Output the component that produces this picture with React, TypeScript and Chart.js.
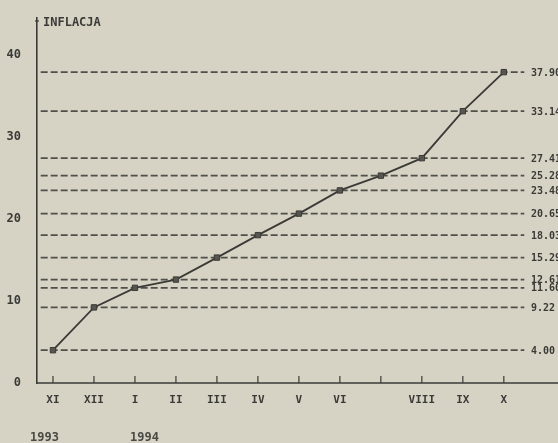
import React, { useEffect, useRef } from "react";
import { Chart, registerables } from "chart.js";

Chart.register(...registerables);

const months = ["XI", "XII", "I", "II", "III", "IV", "V", "VI", "", "VIII", "IX", "X"];
const inflation = [4.0, 9.22, 11.6, 12.61, 15.29, 18.03, 20.65, 23.48, 25.28, 27.41, 33.14, 37.9];
const levelLabels = ["4.00", "9.22", "11.60", "12.61", "15.29", "18.03", "20.65", "23.48", "25.28", "27.41", "33.14", "37.90"];
const yTicks = [0, 10, 20, 30, 40];
const years = ["1993", "1994"];
const title = "INFLACJA";

const BG = "#d6d3c5";
const INK = "#3b3a36";
const MONO = "'DejaVu Sans Mono', monospace";

export default function App() {
  const ref = useRef<HTMLCanvasElement | null>(null);

  useEffect(() => {
    if (!ref.current) return;
    const decor = {
      id: "decor",
      beforeDraw(chart: any) {
        const { ctx } = chart;
        ctx.save();
        ctx.fillStyle = BG;
        ctx.fillRect(0, 0, chart.width, chart.height);
        ctx.restore();
      },
      afterDraw(chart: any) {
        const { ctx, chartArea } = chart;
        const xs = chart.scales.x;
        const ys = chart.scales.y;
        ctx.save();
        ctx.strokeStyle = INK;
        // x axis line across the full width
        ctx.lineWidth = 1.6;
        ctx.beginPath();
        ctx.moveTo(chartArea.left, chartArea.bottom);
        ctx.lineTo(chart.width, chartArea.bottom);
        ctx.stroke();
        ctx.lineWidth = 1.2;
        // tick marks above x axis
        months.forEach((_, i) => {
          const px = xs.getPixelForValue(i);
          ctx.beginPath();
          ctx.moveTo(px, chartArea.bottom);
          ctx.lineTo(px, chartArea.bottom - 7);
          ctx.stroke();
        });
        // small mark on top of y axis
        ctx.beginPath();
        ctx.moveTo(chartArea.left - 2, chartArea.top + 3);
        ctx.lineTo(chartArea.left + 2, chartArea.top + 3);
        ctx.stroke();
        // right labels
        ctx.fillStyle = INK;
        ctx.font = `bold 10px ${MONO}`;
        ctx.textBaseline = "middle";
        ctx.textAlign = "left";
        inflation.forEach((v, i) => {
          ctx.fillText(levelLabels[i], 531, ys.getPixelForValue(v) + 1);
        });
        // title
        ctx.font = `bold 12px ${MONO}`;
        ctx.fillText(title, 43, 23);
        // years
        ctx.font = `bold 12px ${MONO}`;
        ctx.fillStyle = "#4a4944";
        ctx.fillText(years[0], 30, 438);
        ctx.fillText(years[1], 130, 438);
        ctx.restore();
      },
    };

    const guideSets = inflation.map((v) => ({
      data: [
        { x: -0.3, y: v },
        { x: 11.5, y: v },
      ],
      borderColor: "#514f4a",
      borderWidth: 1.8,
      borderDash: [7, 3],
      pointRadius: 0,
      order: 2,
    }));

    const chart = new Chart(ref.current, {
      type: "line",
      data: {
        datasets: [
          {
            data: inflation.map((v, i) => ({ x: i, y: v })),
            borderColor: INK,
            borderWidth: 1.8,
            pointStyle: "rect",
            pointRadius: 3.8,
            pointBorderWidth: 1,
            pointBorderColor: INK,
            pointBackgroundColor: "#56554f",
            order: 0,
          } as any,
          ...guideSets,
        ],
      },
      options: {
        animation: false,
        responsive: false,
        layout: { padding: { top: 18, left: 0, right: 0, bottom: 0 } },
        plugins: { legend: { display: false }, tooltip: { enabled: false } },
        scales: {
          x: {
            type: "linear",
            min: -0.39,
            max: 12.2,
            afterBuildTicks: (s: any) => {
              s.ticks = months.map((_, i) => ({ value: i }));
            },
            afterFit: (s: any) => {
              s.height = 60;
            },
            grid: { display: false },
            border: { display: false },
            ticks: {
              autoSkip: false,
              maxRotation: 0,
              padding: 3,
              color: INK,
              font: { family: MONO, size: 11, weight: "bold" },
              callback: (v: any) => months[v] ?? "",
            },
          },
          y: {
            min: 0,
            max: 44.5,
            afterBuildTicks: (s: any) => {
              s.ticks = yTicks.map((v) => ({ value: v }));
            },
            afterFit: (s: any) => {
              s.width = 37;
            },
            grid: { display: false },
            border: { display: true, color: INK, width: 1.6 },
            ticks: {
              padding: 8,
              color: INK,
              font: { family: MONO, size: 12, weight: "bold" },
            },
          },
        },
      } as any,
      plugins: [decor],
    });
    return () => chart.destroy();
  }, []);

  return (
    <div style={{ position: "fixed", left: 0, top: 0, width: 558, height: 443, background: BG }}>
      <canvas ref={ref} width={558} height={443} style={{ display: "block" }} />
    </div>
  );
}
